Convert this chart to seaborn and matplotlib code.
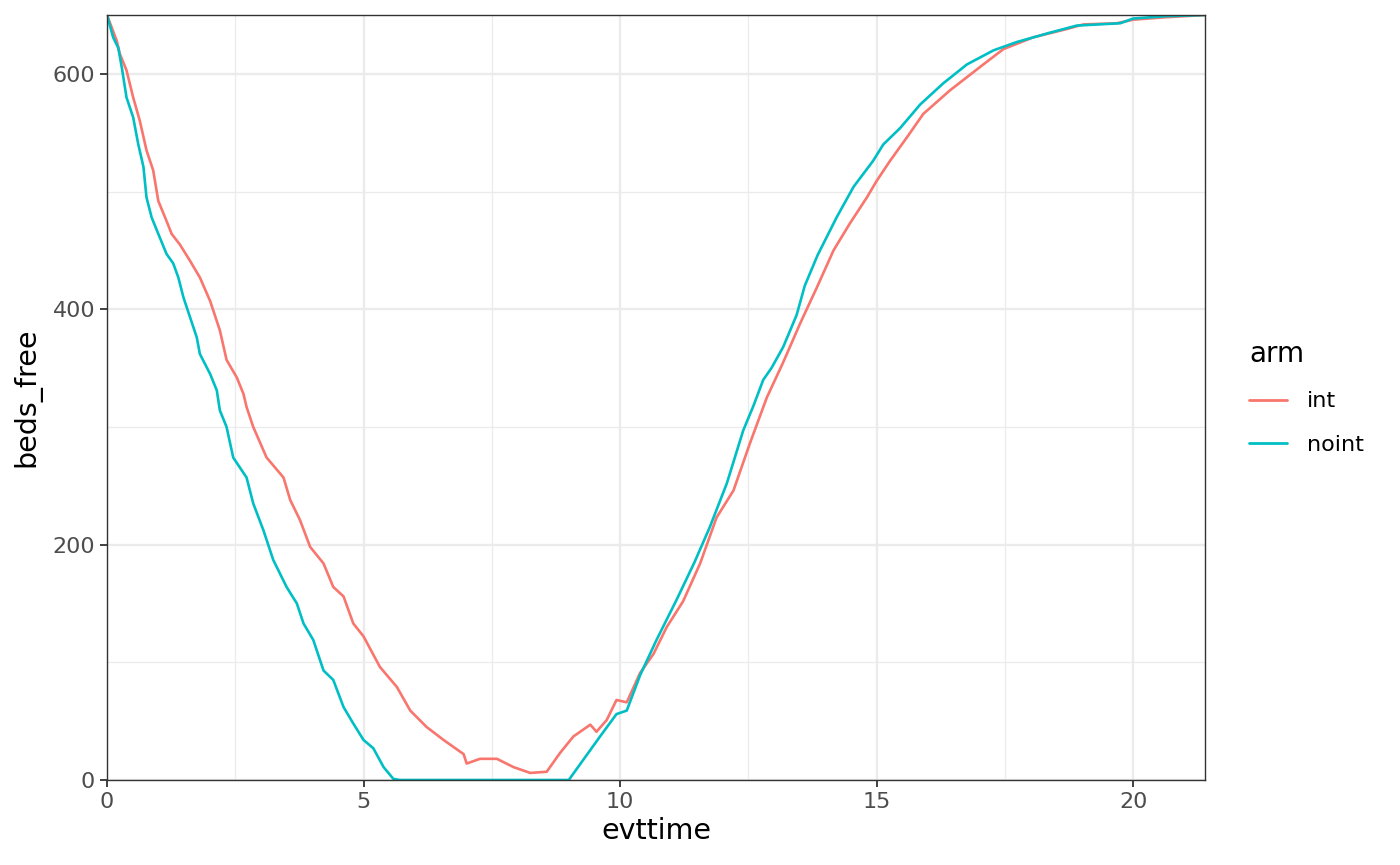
import pandas as pd
import matplotlib
matplotlib.use('Agg')
import matplotlib.pyplot as plt
from matplotlib.ticker import MultipleLocator
import seaborn as sns

sns.set_theme(style='white')
plt.rcParams['font.family'] = ['DejaVu Sans']

# values
int_time = [0, 0.19, 0.25, 0.38, 0.51, 0.64, 0.77, 0.9, 1.0, 1.16, 1.26, 1.42, 1.62, 1.81,
            2.01, 2.2, 2.33, 2.53, 2.66, 2.72, 2.85, 3.11, 3.44, 3.57, 3.76, 3.96, 4.22,
            4.41, 4.61, 4.8, 5.0, 5.32, 5.65, 5.91, 6.23, 6.56, 6.95, 7.01, 7.27, 7.6,
            7.92, 8.25, 8.57, 8.83, 9.09, 9.42, 9.54, 9.74, 9.93, 10.13, 10.39, 10.65,
            10.91, 11.23, 11.56, 11.88, 12.21, 12.53, 12.86, 13.18, 13.51, 13.83, 14.16,
            14.48, 14.81, 15.0, 15.26, 15.59, 15.91, 16.43, 17.08, 17.47, 18.05, 18.7,
            19.03, 19.68, 20.0, 20.6, 21.4]
int_beds = [650, 628, 617, 603, 580, 560, 535, 518, 492, 475, 464, 455, 441, 427,
            407, 382, 357, 342, 328, 317, 300, 274, 257, 238, 221, 198, 184,
            164, 156, 133, 122, 96, 79, 59, 45, 34, 22, 14, 18, 18,
            11, 6, 7, 23, 37, 47, 41, 51, 68, 66, 91, 107,
            130, 152, 184, 223, 246, 286, 325, 355, 388, 418, 450,
            473, 495, 509, 526, 546, 566, 586, 608, 621, 631, 638,
            642, 643, 646, 648, 650]

noint_time = [0, 0.12, 0.22, 0.29, 0.38, 0.51, 0.61, 0.71, 0.77, 0.87, 1.0, 1.16, 1.29,
              1.39, 1.49, 1.62, 1.75, 1.81, 2.01, 2.14, 2.2, 2.33, 2.46, 2.72, 2.85,
              3.05, 3.24, 3.5, 3.7, 3.83, 4.02, 4.22, 4.41, 4.61, 4.8, 5.0, 5.19, 5.39,
              5.58, 5.7, 9.0, 9.28, 9.61, 9.93, 10.13, 10.39, 10.71, 11.1, 11.45, 11.75,
              12.08, 12.4, 12.6, 12.79, 12.95, 13.18, 13.44, 13.6, 13.85, 14.22, 14.55,
              14.93, 15.13, 15.46, 15.85, 16.3, 16.76, 17.28, 17.73, 18.38, 18.9, 19.75,
              20.0, 20.65, 21.4]
noint_beds = [650, 631, 622, 605, 580, 563, 540, 521, 495, 478, 464, 447, 439,
              427, 410, 393, 376, 362, 345, 331, 314, 300, 274, 257, 235,
              212, 187, 164, 150, 133, 119, 93, 85, 62, 48, 34, 27, 11,
              1, 0, 0, 17, 37, 56, 59, 89, 119, 153, 185, 215,
              252, 297, 318, 340, 350, 368, 395, 420, 446, 478, 504,
              526, 540, 554, 574, 592, 608, 620, 627, 635, 641, 643,
              647, 649, 650]

arms = ['int', 'noint']
colors = ['#F8766D', '#00BFC4']

df = pd.concat([
    pd.DataFrame({'evttime': int_time, 'beds_free': int_beds, 'arm': 'int'}),
    pd.DataFrame({'evttime': noint_time, 'beds_free': noint_beds, 'arm': 'noint'}),
])

fig = plt.figure(figsize=(14, 8.65), dpi=100)
ax = fig.add_axes([107 / 1400, 1 - 780 / 865, 1098 / 1400, 765 / 865])

sns.lineplot(data=df, x='evttime', y='beds_free', hue='arm', hue_order=arms,
             palette=colors, estimator=None, sort=False, linewidth=1.9, ax=ax)

ax.set_xlim(0, 21.4)
ax.set_ylim(0, 650)
ax.xaxis.set_major_locator(MultipleLocator(5))
ax.xaxis.set_minor_locator(MultipleLocator(2.5))
ax.yaxis.set_major_locator(MultipleLocator(200))
ax.yaxis.set_minor_locator(MultipleLocator(100))
ax.grid(which='major', color='#EBEBEB', linewidth=1.7)
ax.grid(which='minor', color='#EBEBEB', linewidth=0.9)
ax.set_axisbelow(True)
for s in ax.spines.values():
    s.set_color('#333333')
    s.set_linewidth(1.0)
ax.tick_params(which='major', direction='out', length=5, width=1.3, color='#333333',
               labelsize=16, labelcolor='#4D4D4D', bottom=True, left=True, pad=3.5)
ax.tick_params(which='minor', length=0)
ax.set_xlabel('evttime', fontsize=20.5, color='black', labelpad=4)
ax.set_ylabel('beds_free', fontsize=20.5, color='black', labelpad=8)

leg = ax.legend(title='arm', frameon=False, loc='center left', bbox_to_anchor=(1.04, 0.5),
                borderaxespad=0, borderpad=0, handlelength=1.7, handletextpad=0.9,
                labelspacing=1.05, fontsize=16, title_fontsize=20, alignment='left')
for txt in leg.get_texts():
    txt.set_color('black')
leg.get_title().set_color('black')
for line in leg.get_lines():
    line.set_linewidth(2.0)

plt.savefig('out.png', dpi=100)
